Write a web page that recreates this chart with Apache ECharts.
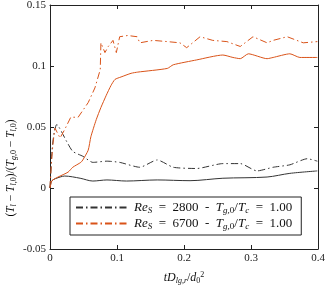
<!DOCTYPE html>
<html><head><meta charset="utf-8">
<script src="https://cdn.jsdelivr.net/npm/echarts@6/dist/echarts.min.js"></script>
<style>html,body{margin:0;padding:0;background:#fff}#c{width:327px;height:286px}</style>
</head><body><div id="c"></div>
<script>
const xTicks = [0, 0.1, 0.2, 0.3, 0.4];
const yTicks = [-0.05, 0, 0.05, 0.1, 0.15];
const seriesNames = ['Re2800', 'Re6700'];

const black2800Solid = [[0,0],[0.003,0.006],[0.015,0.009],[0.022,0.0098],[0.045,0.008],[0.064,0.0057],[0.085,0.0066],[0.114,0.0057],[0.16,0.0066],[0.209,0.006],[0.258,0.008],[0.324,0.009],[0.358,0.012],[0.399,0.014]];
const black2800Dash = [[0,0],[0.003,0.03],[0.006,0.045],[0.01,0.052],[0.025,0.038],[0.034,0.030],[0.049,0.026],[0.064,0.021],[0.085,0.022],[0.104,0.021],[0.134,0.017],[0.16,0.023],[0.184,0.017],[0.219,0.016],[0.258,0.020],[0.284,0.020],[0.309,0.014],[0.333,0.017],[0.358,0.019],[0.384,0.024],[0.399,0.022]];
const orange6700Dash = [[0,0],[0.002,0.02],[0.0045,0.037],[0.0075,0.049],[0.015,0.041],[0.022,0.048],[0.031,0.058],[0.042,0.058],[0.057,0.070],[0.067,0.082],[0.075,0.097],[0.076,0.119],[0.082,0.111],[0.087,0.116],[0.094,0.121],[0.099,0.111],[0.104,0.124],[0.116,0.125],[0.130,0.124],[0.134,0.119],[0.154,0.121],[0.175,0.120],[0.194,0.119],[0.204,0.115],[0.224,0.124],[0.243,0.121],[0.264,0.120],[0.284,0.116],[0.303,0.124],[0.324,0.119],[0.333,0.121],[0.354,0.124],[0.378,0.119],[0.399,0.120]];
const orange6700Solid = [[0,0],[0.003,0.006],[0.012,0.009],[0.027,0.013],[0.034,0.017],[0.046,0.021],[0.049,0.023],[0.057,0.031],[0.061,0.042],[0.069,0.056],[0.076,0.066],[0.084,0.076],[0.091,0.084],[0.097,0.089],[0.106,0.091],[0.121,0.094],[0.131,0.095],[0.175,0.098],[0.184,0.101],[0.219,0.105],[0.258,0.109],[0.273,0.107],[0.284,0.106],[0.296,0.110],[0.324,0.106],[0.333,0.107],[0.358,0.110],[0.373,0.107],[0.399,0.107]];

const FONT = 'Liberation Serif';
const BLACK = '#333333';
const ORANGE = '#D95319';
const DASHDOT = [7, 3, 1.5, 3];

const chart = echarts.init(document.getElementById('c'), null, {renderer: 'canvas'});
const rich = {
  i: {fontFamily: FONT, fontStyle: 'italic', fontSize: 12, color: '#111'},
  n: {fontFamily: FONT, fontSize: 12, color: '#111'},
  s: {fontFamily: FONT, fontStyle: 'italic', fontSize: 8, color: '#111', padding: [6, 0, 0, 0]},
  sn: {fontFamily: FONT, fontSize: 8, color: '#111', padding: [6, 0, 0, 0]},
  sp: {fontFamily: FONT, fontSize: 8, color: '#111', padding: [0, 0, 6, 0]}
};
const yRich = {
  i: {fontFamily: FONT, fontStyle: 'italic', fontSize: 11.5, color: '#111'},
  n: {fontFamily: FONT, fontSize: 11.5, color: '#111'},
  s: {fontFamily: FONT, fontStyle: 'italic', fontSize: 8, color: '#111', padding: [6, 0, 0, 0]},
  sn: {fontFamily: FONT, fontSize: 8, color: '#111', padding: [6, 0, 0, 0]}
};
const legRich = {
  i: {fontFamily: FONT, fontStyle: 'italic', fontSize: 13, color: '#111'},
  n: {fontFamily: FONT, fontSize: 13, color: '#111'},
  s: {fontFamily: FONT, fontStyle: 'italic', fontSize: 9, color: '#111', padding: [6, 0, 0, 0]},
  sn: {fontFamily: FONT, fontSize: 9, color: '#111', padding: [6, 0, 0, 0]}
};
function legendLabel(name) {
  const re = name === 'Re2800' ? '2800' : '6700';
  return '{i|Re}{s|S}{n|  =  ' + re + '  -  }{i|T}{s|g,}{sn|0}{n|/}{i|T}{s|c}{n|  =  1.00}';
}
const tickCommon = {inside: true, length: 4, lineStyle: {color: '#222'}};
chart.setOption({
  animation: false,
  grid: {left: 50, right: 9, top: 5, bottom: 37, show: false, containLabel: false, outerBoundsMode: 'none'},
  legend: {
    data: seriesNames,
    orient: 'vertical',
    left: 70, top: 197,
    padding: [4, 9, 4, 5],
    itemGap: 2,
    itemWidth: 53, itemHeight: 14,
    borderColor: '#222', borderWidth: 1, backgroundColor: '#fff',
    itemStyle: {opacity: 0},
    formatter: legendLabel,
    textStyle: {rich: legRich, fontFamily: FONT, fontSize: 13}
  },
  graphic: [{
    type: 'text', x: 11, y: 168, rotation: Math.PI / 2,
    style: {
      text: '{n|(}{i|T}{s|l}{n| − }{i|T}{s|l,}{sn|0}{n|)/(}{i|T}{s|g,}{sn|0}{n| − }{i|T}{s|l,}{sn|0}{n|)}',
      rich: yRich, align: 'center', verticalAlign: 'middle'
    }
  }],
  xAxis: [{
    type: 'value', min: 0, max: 0.4, interval: 0.1, position: 'bottom',
    axisLine: {show: true, onZero: false, lineStyle: {color: '#222'}},
    axisTick: tickCommon, splitLine: {show: false},
    axisLabel: {fontFamily: FONT, fontSize: 11, color: '#222', margin: 4,
      formatter: v => { const t = xTicks.find(k => Math.abs(k - v) < 1e-9); return t === undefined ? '' : String(t); }},
    name: '{i|tD}{s|lg,r}{n|/}{i|d}{sn|0}{sp|2}',
    nameLocation: 'middle', nameGap: 22,
    nameTextStyle: {rich: rich}
  }, {
    type: 'value', min: 0, max: 0.4, interval: 0.1, position: 'top',
    axisLine: {show: true, onZero: false, lineStyle: {color: '#222'}},
    axisTick: tickCommon, axisLabel: {show: false}, splitLine: {show: false}
  }],
  yAxis: [{
    type: 'value', min: -0.05, max: 0.15, interval: 0.05, position: 'left',
    axisLine: {show: true, onZero: false, lineStyle: {color: '#222'}},
    axisTick: tickCommon, splitLine: {show: false},
    axisLabel: {fontFamily: FONT, fontSize: 11, color: '#222', margin: 4,
      formatter: v => { const t = yTicks.find(k => Math.abs(k - v) < 1e-9); return t === undefined ? '' : String(t); }}
  }, {
    type: 'value', min: -0.05, max: 0.15, interval: 0.05, position: 'right',
    axisLine: {show: true, onZero: false, lineStyle: {color: '#222'}},
    axisTick: tickCommon, axisLabel: {show: false}, splitLine: {show: false}
  }],
  series: [
    {name: 'Re2800', type: 'line', data: black2800Dash, symbol: 'none', smooth: 0.2,
      lineStyle: {color: BLACK, width: 1, type: DASHDOT}, itemStyle: {color: BLACK}},
    {name: 'Re6700', type: 'line', data: orange6700Dash, symbol: 'none',
      lineStyle: {color: ORANGE, width: 1, type: DASHDOT}, itemStyle: {color: ORANGE}},
    {name: 'Re2800s', type: 'line', data: black2800Solid, symbol: 'none', smooth: 0.3,
      lineStyle: {color: BLACK, width: 1}, itemStyle: {color: BLACK}},
    {name: 'Re6700s', type: 'line', data: orange6700Solid, symbol: 'none', smooth: 0.2,
      lineStyle: {color: ORANGE, width: 1}, itemStyle: {color: ORANGE}}
  ]
});
</script></body></html>
